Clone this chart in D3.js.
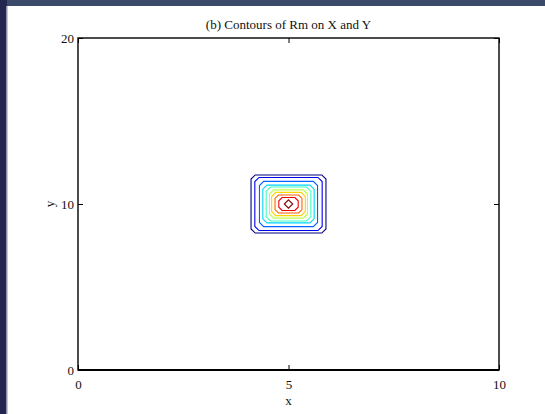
<!DOCTYPE html>
<html>
<head>
<meta charset="utf-8">
<script src="https://cdn.jsdelivr.net/npm/d3@7"></script>
<style>
  html, body { margin: 0; padding: 0; background: #ffffff; }
  svg { display: block; }
  text { font-family: "Liberation Serif", "DejaVu Serif", serif; fill: #111; }
</style>
</head>
<body>
<svg id="chart" width="545" height="414"></svg>
<script>
// Axis ranges and tick labels
const xDomain = [0, 10];
const yDomain = [0, 20];
const xTicks = [0, 5, 10];
const yTicks = [0, 10, 20];

// Contour levels of Rm, outermost first; each closed contour is an
// octagon about its centre given by half-width/half-height and corner cut.
const levels     = [1, 2, 3, 4, 5, 6, 7, 8, 9, 10];
const centerX    = [5, 5, 5, 5, 5, 5, 5, 5, 5, 5];
const centerY    = [10, 10, 10, 10, 10, 10, 10, 10, 10, 10];
const halfWidth  = [0.89, 0.80, 0.69, 0.61, 0.53, 0.45, 0.40, 0.32, 0.23, 0.10];
const halfHeight = [1.75, 1.60, 1.36, 1.14, 1.02, 0.85, 0.70, 0.54, 0.39, 0.25];
const cutX       = [0.10, 0.10, 0.10, 0.10, 0.10, 0.10, 0.10, 0.08, 0.08, 0.10];
const cutY       = [0.25, 0.25, 0.25, 0.25, 0.25, 0.25, 0.25, 0.20, 0.20, 0.25];
const levelColors = ["#000080", "#0000f1", "#0063ff", "#00d4ff", "#47ffb8",
                     "#b8ff47", "#ffd400", "#ff6300", "#f10000", "#800000"];

const svg = d3.select("#chart");
const serif = "'Liberation Serif', 'DejaVu Serif', serif";

// window frame decoration
svg.append("rect").attr("x", 0).attr("y", 0).attr("width", 545).attr("height", 6)
  .attr("fill", "#3b4a6b");
svg.append("rect").attr("x", 0).attr("y", 0).attr("width", 7).attr("height", 414)
  .attr("fill", "#222650");
svg.append("rect").attr("x", 6).attr("y", 6).attr("width", 1.5).attr("height", 408)
  .attr("fill", "#8c92a8");

const plotLeft = 78, plotRight = 499, plotTop = 38, plotBottom = 370;
const x = d3.scaleLinear().domain(xDomain).range([plotLeft, plotRight]);
const y = d3.scaleLinear().domain(yDomain).range([plotBottom, plotTop]);

// Title
svg.append("text").attr("x", (plotLeft + plotRight) / 2).attr("y", 29)
  .attr("text-anchor", "middle").attr("font-size", 13).attr("font-family", serif)
  .text("(b) Contours of Rm on X and Y");

// Contours
const g = svg.append("g");
levels.forEach((lv, i) => {
  const cx = centerX[i], cy = centerY[i];
  const hw = halfWidth[i], hh = halfHeight[i];
  const ax = Math.min(cutX[i], hw), ay = Math.min(cutY[i], hh);
  const pts = [
    [cx - hw + ax, cy + hh], [cx + hw - ax, cy + hh],
    [cx + hw, cy + hh - ay], [cx + hw, cy - hh + ay],
    [cx + hw - ax, cy - hh], [cx - hw + ax, cy - hh],
    [cx - hw, cy - hh + ay], [cx - hw, cy + hh - ay]
  ];
  g.append("path")
    .attr("d", d3.line().x(d => x(d[0])).y(d => y(d[1])).curve(d3.curveLinearClosed)(pts))
    .attr("fill", "none")
    .attr("stroke", levelColors[i])
    .attr("stroke-width", 1.1);
});

// Axes with inward ticks
const tickLen = 5;
const axG = svg.append("g");
axG.append("g").attr("transform", `translate(0,${plotBottom})`)
  .call(d3.axisBottom(x).tickValues(xTicks).tickSize(-tickLen).tickPadding(tickLen + 5).tickFormat(d3.format("d")))
  .call(s => s.select(".domain").remove());
axG.append("g").attr("transform", `translate(0,${plotTop})`)
  .call(d3.axisTop(x).tickValues(xTicks).tickSize(-tickLen).tickFormat(""))
  .call(s => s.select(".domain").remove());
axG.append("g").attr("transform", `translate(${plotLeft},0)`)
  .call(d3.axisLeft(y).tickValues(yTicks).tickSize(-tickLen).tickPadding(4).tickFormat(d3.format("d")))
  .call(s => s.select(".domain").remove());
axG.append("g").attr("transform", `translate(${plotRight},0)`)
  .call(d3.axisRight(y).tickValues(yTicks).tickSize(-tickLen).tickFormat(""))
  .call(s => s.select(".domain").remove());
axG.selectAll(".tick line").attr("stroke", "#000").attr("stroke-width", 1);
axG.selectAll(".tick text").attr("font-family", serif)
  .attr("font-size", 13).attr("fill", "#111");

// Frame
svg.append("rect").attr("x", plotLeft).attr("y", plotTop)
  .attr("width", plotRight - plotLeft).attr("height", plotBottom - plotTop)
  .attr("fill", "none").attr("stroke", "#000").attr("stroke-width", 1.4);
svg.append("line").attr("x1", plotLeft).attr("x2", plotRight).attr("y1", plotBottom).attr("y2", plotBottom)
  .attr("stroke", "#000").attr("stroke-width", 2);

// Axis labels
svg.append("text").attr("x", x(5)).attr("y", 405).attr("font-family", serif)
  .attr("text-anchor", "middle").attr("font-size", 13).text("x");
svg.append("text").attr("transform", `translate(54,${y(10)}) rotate(-90)`)
  .attr("font-family", serif)
  .attr("text-anchor", "middle").attr("font-size", 13).text("y");
</script>
</body>
</html>
